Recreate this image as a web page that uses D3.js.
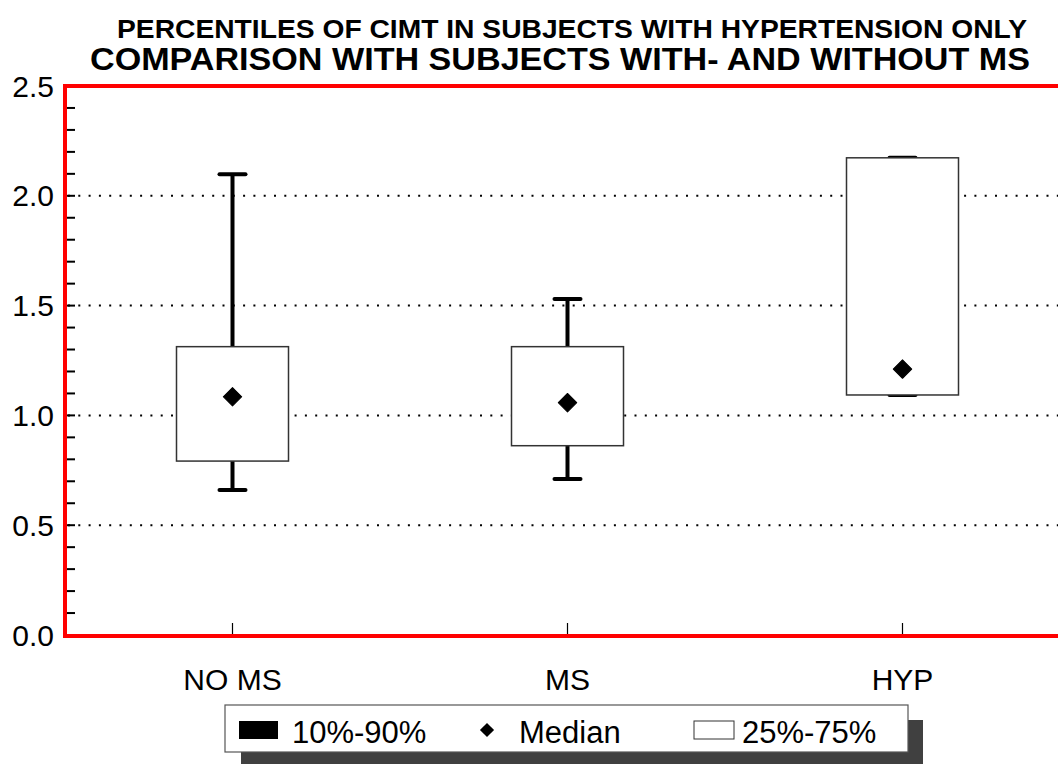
<!DOCTYPE html>
<html><head><meta charset="utf-8">
<script src="https://cdn.jsdelivr.net/npm/d3@7"></script>
<style>html,body{margin:0;padding:0;background:#fff;overflow:hidden}</style>
</head><body>
<script>
const categories = ["NO MS", "MS", "HYP"];
const p10 = [0.66, 0.71, 1.093];
const q1 = [0.792, 0.862, 1.093];
const median = [1.085, 1.058, 1.211];
const q3 = [1.313, 1.313, 2.173];
const p90 = [2.098, 1.53, 2.173];
const yTicks = [0.0, 0.5, 1.0, 1.5, 2.0, 2.5];
const gridValues = [0.5, 1.0, 1.5, 2.0];
const titleLines = ["PERCENTILES OF CIMT IN SUBJECTS WITH HYPERTENSION ONLY", "COMPARISON WITH SUBJECTS WITH- AND WITHOUT MS"];
const legendItems = ["10%-90%", "Median", "25%-75%"];

const W = 1058, H = 764;
const svg = d3.select("body").append("svg").attr("width", W).attr("height", H);
const FONT = "Liberation Sans, Arial, Helvetica, sans-serif";

const x = d3.scaleBand().domain(categories).range([65, 1070]);
const y = d3.scaleLinear().domain([0, 2.5]).range([635, 86]);
const boxW = 112;

// titles
svg.append("text").attr("x", 572).attr("y", 38).attr("text-anchor", "middle")
  .attr("font-family", "Liberation Sans Narrow, Arial Narrow, " + FONT).attr("font-weight", "bold")
  .attr("font-size", 25).attr("textLength", 910).attr("lengthAdjust", "spacingAndGlyphs").text(titleLines[0]);
svg.append("text").attr("x", 560).attr("y", 70).attr("text-anchor", "middle")
  .attr("font-family", "Liberation Sans Narrow, Arial Narrow, " + FONT).attr("font-weight", "bold")
  .attr("font-size", 31).attr("textLength", 940).attr("lengthAdjust", "spacingAndGlyphs").text(titleLines[1]);

// gridlines
svg.append("g").selectAll("line").data(gridValues).join("line")
  .attr("x1", 68).attr("x2", W).attr("y1", d => y(d)).attr("y2", d => y(d))
  .attr("stroke", "#000").attr("stroke-width", 2).attr("stroke-dasharray", "2,8.3");

// minor ticks
const minor = d3.range(1, 25).map(i => i / 10);
svg.append("g").selectAll("line").data(minor).join("line")
  .attr("x1", 67).attr("x2", 75).attr("y1", d => y(d)).attr("y2", d => y(d))
  .attr("stroke", "#000").attr("stroke-width", 2);

// y tick labels
svg.append("g").selectAll("text").data(yTicks).join("text")
  .attr("x", 54).attr("y", d => y(d) + 10.5).attr("text-anchor", "end")
  .attr("font-family", FONT).attr("font-size", 30).text(d => d.toFixed(1));

// x ticks and labels
const cx = c => x(c) + x.bandwidth() / 2;
svg.append("g").selectAll("line").data(categories).join("line")
  .attr("x1", cx).attr("x2", cx).attr("y1", 623).attr("y2", 635)
  .attr("stroke", "#000").attr("stroke-width", 1.2);
svg.append("g").selectAll("text").data(categories).join("text")
  .attr("x", cx).attr("y", 690).attr("text-anchor", "middle")
  .attr("font-family", FONT).attr("font-size", 30).text(d => d);

// boxes
const g = svg.append("g");
categories.forEach((c, i) => {
  const xc = cx(c);
  g.append("line").attr("x1", xc).attr("x2", xc).attr("y1", y(p90[i])).attr("y2", y(q3[i]))
    .attr("stroke", "#000").attr("stroke-width", 4);
  g.append("line").attr("x1", xc).attr("x2", xc).attr("y1", y(q1[i])).attr("y2", y(p10[i]))
    .attr("stroke", "#000").attr("stroke-width", 4);
  [p90[i], p10[i]].forEach(v => {
    g.append("line").attr("x1", xc - 13).attr("x2", xc + 13).attr("y1", y(v)).attr("y2", y(v))
      .attr("stroke", "#000").attr("stroke-width", 4).attr("stroke-linecap", "round");
  });
  g.append("rect").attr("x", xc - boxW / 2).attr("y", y(q3[i])).attr("width", boxW)
    .attr("height", y(q1[i]) - y(q3[i])).attr("fill", "#fff").attr("stroke", "#333").attr("stroke-width", 1.5);
  g.append("path").attr("d", d3.symbol(d3.symbolSquare, 170)())
    .attr("transform", `translate(${xc},${y(median[i])}) rotate(45)`).attr("fill", "#000")
    .attr("stroke", "#000").attr("stroke-width", 1).attr("stroke-linejoin", "round");
});

// red frame
const red = svg.append("g").attr("stroke", "#ff0000").attr("stroke-width", 4).attr("fill", "none");
red.append("path").attr("d", `M${W + 5},${y(2.5)} H65 V${y(0) + 1} H${W + 5}`);

// legend
const lg = svg.append("g");
lg.append("rect").attr("x", 241).attr("y", 720).attr("width", 682).attr("height", 50).attr("fill", "#404040");
lg.append("rect").attr("x", 225).attr("y", 705).attr("width", 683).attr("height", 47)
  .attr("fill", "#fff").attr("stroke", "#555").attr("stroke-width", 1.2);
lg.append("rect").attr("x", 239).attr("y", 721).attr("width", 39).attr("height", 18).attr("fill", "#000");
lg.append("path").attr("d", d3.symbol(d3.symbolSquare, 100)()).attr("transform", "translate(487,730) rotate(45)").attr("fill", "#000");
lg.append("rect").attr("x", 694).attr("y", 721).attr("width", 40).attr("height", 18)
  .attr("fill", "#fff").attr("stroke", "#333").attr("stroke-width", 1);
const lx = [292, 519, 742];
lg.selectAll("text").data(legendItems).join("text")
  .attr("x", (d, i) => lx[i]).attr("y", 743).attr("font-family", FONT).attr("font-size", 31).text(d => d);
</script>
</body></html>
